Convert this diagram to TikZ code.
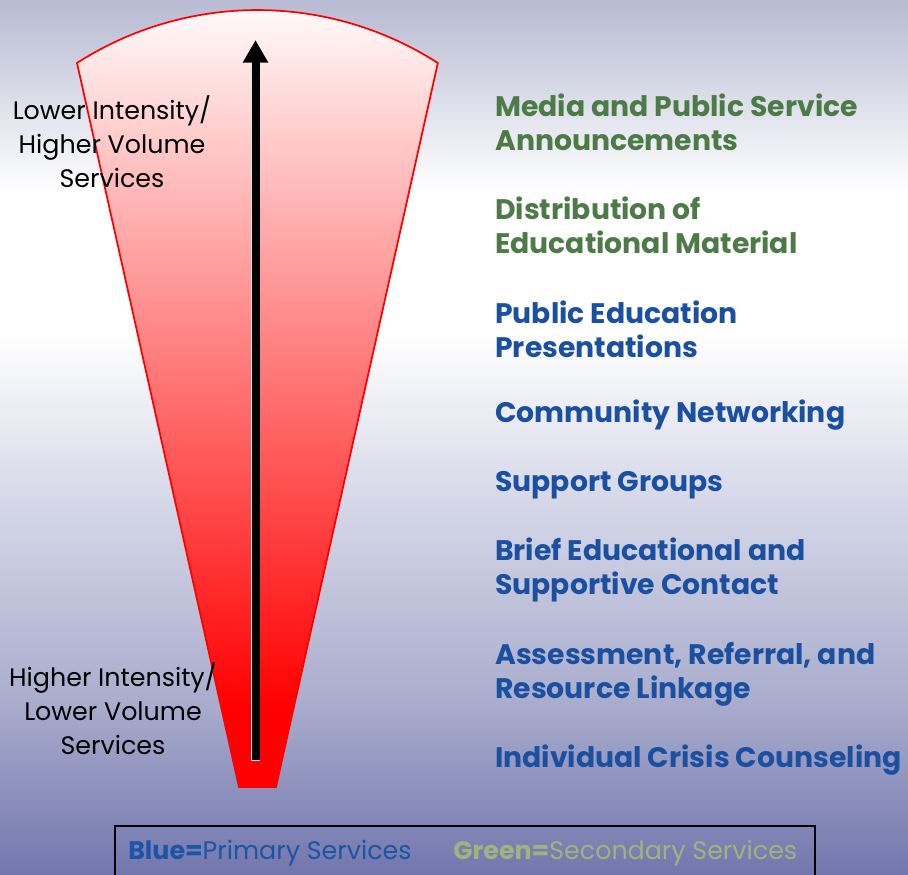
\documentclass[tikz,border=0pt]{standalone}
\usepackage{fontspec}
\setmainfont{Poppins}
\usetikzlibrary{arrows.meta}

\definecolor{secgreen}{HTML}{4D7B47}
\definecolor{primblue}{HTML}{1B4F9F}
\definecolor{keyblue}{HTML}{1D55A6}
\definecolor{keygreen}{HTML}{9EB47E}
\definecolor{bgtop}{HTML}{B7BAD2}
\definecolor{bgmid}{HTML}{FFFFFF}
\definecolor{bglow}{HTML}{D4D6E7}
\definecolor{bgdeep}{HTML}{AAADCD}
\definecolor{bgbottom}{HTML}{7276AD}

% page background: lavender at the top, white in the upper middle, blue-violet below
\pgfdeclareverticalshading{pagebg}{100bp}{%
  color(0bp)=(bgbottom); color(25bp)=(bgbottom);
  color(35bp)=(bgdeep); color(46bp)=(bglow);
  color(56bp)=(bgmid); color(64bp)=(bgmid);
  color(75bp)=(bgtop); color(100bp)=(bgtop)}

% funnel fill: white at the rim, solid red near the narrow end
\pgfdeclareverticalshading{funnelfill}{100bp}{%
  color(0bp)=(red); color(25bp)=(red); color(30bp)=(red);
  color(75bp)=(white); color(100bp)=(white)}

\tikzset{
  service/.style={anchor=west, align=left, inner sep=0pt,
    font=\bfseries\fontsize{21.2}{25.5}\selectfont},
  primary/.style={service, text=primblue},
  secondary/.style={service, text=secgreen},
  endlabel/.style={align=center, inner sep=0pt, text=black,
    font=\fontsize{19}{25.5}\selectfont},
  keytext/.style={anchor=west, inner sep=0pt,
    font=\fontsize{19}{22}\selectfont},
}

\begin{document}
\begin{tikzpicture}[x=0.75pt,y=0.75pt]
  \useasboundingbox (0,0) rectangle (908,875);
  \shade[shading=pagebg] (0,0) rectangle (908,875);

  % funnel
  \path[draw=red, line width=1.3pt, shading=funnelfill]
    (239,88) -- (77,812) arc[start angle=122.7, end angle=57.3, radius=334]
    -- (276,88) -- cycle;

  % direction arrow, with a faint light edge round the shaft
  \coordinate (abase) at (255.5,115);
  \coordinate (atip) at (255.5,835);
  \draw[line width=7pt, white!75!gray, line cap=butt]
    ([yshift=-0.5pt]abase) -- ([yshift=-20pt]atip);
  \draw[line width=6pt, black, -{Triangle[width=18pt,length=17pt]}]
    (abase) -- (atip);

  % end labels
  \node[endlabel] (low) at (112,733)
    {Lower Intensity/\\Higher Volume\\Services};
  \node[endlabel] (high) at (113,166)
    {Higher Intensity/\\Lower Volume\\Services};

  % services, widest reach at the top
  \node[secondary] (media) at (495,753)
    {Media and Public Service\\Announcements};
  \node[secondary] (distrib) at (495,649.5)
    {Distribution of\\Educational Material};
  \node[primary] (pubed) at (495,546)
    {Public Education\\Presentations};
  \node[primary] (network) at (495,460) {Community Networking};
  \node[primary] (support) at (495,390) {Support Groups};
  \node[primary] (brief) at (495,305)
    {Brief Educational and\\Supportive Contact};
  \node[primary] (assess) at (495,201)
    {Assessment, Referral, and\\Resource Linkage};
  \node[primary] (crisis) at (495,115) {Individual Crisis Counseling};

  % key
  \draw[black, line width=1.5pt] (115,-10) rectangle (815,49);
  \node[keytext, text=keyblue] (keyprim) at (128,22)
    {\textbf{Blue=}Primary Services};
  \node[keytext, text=keygreen] (keysec) at (453,22)
    {\textbf{Green=}Secondary Services};
\end{tikzpicture}
\end{document}
